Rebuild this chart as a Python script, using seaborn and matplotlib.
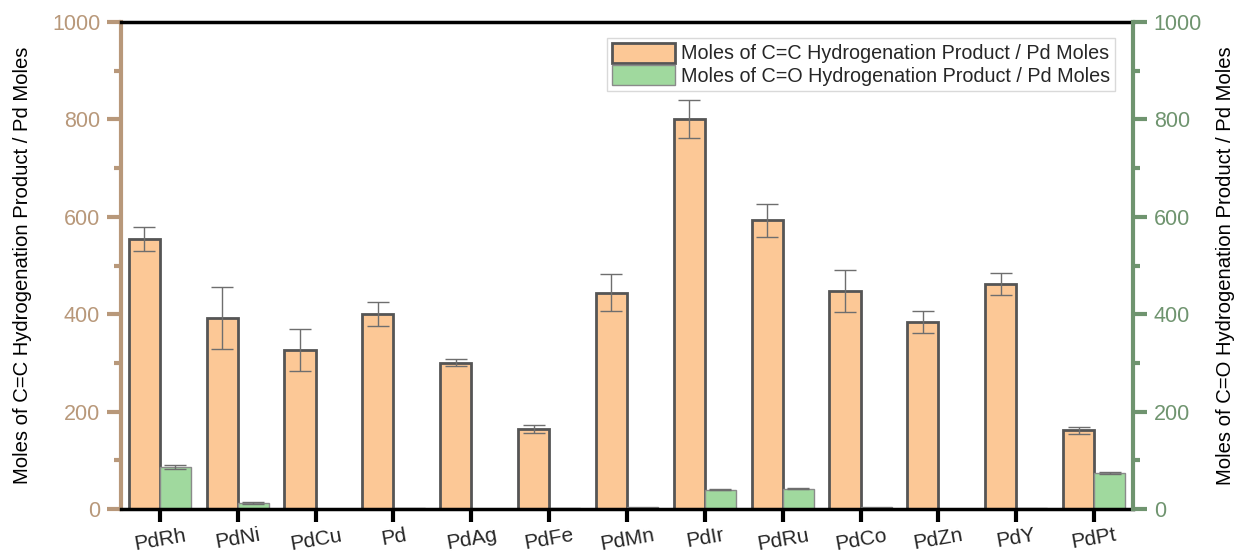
import numpy as np
import pandas as pd
import matplotlib
matplotlib.use("Agg")
import matplotlib.pyplot as plt
import seaborn as sns
from matplotlib.ticker import MultipleLocator

categories = ["PdRh", "PdNi", "PdCu", "Pd", "PdAg", "PdFe", "PdMn", "PdIr", "PdRu", "PdCo", "PdZn", "PdY", "PdPt"]
cc_values = [555, 392, 326, 401, 300, 164, 444, 800, 593, 447, 384, 462, 162]
cc_errors = [25, 63, 43, 25, 7, 8, 38, 39, 34, 43, 23, 23, 7]
co_values = [86, 12, 0, 2, 0, 2, 4, 40, 42, 5, 0, 2, 73]
co_errors = [4, 2, 0, 0, 0, 0, 0, 1, 1, 0, 0, 0, 2]

label_cc = "Moles of C=C Hydrogenation Product / Pd Moles"
label_co = "Moles of C=O Hydrogenation Product / Pd Moles"

sns.set_style("white")
plt.rcParams['font.family'] = ['Liberation Sans', 'DejaVu Sans']

df = pd.DataFrame({
    "cat": categories * 2,
    "val": cc_values + co_values,
    "series": [label_cc] * len(categories) + [label_co] * len(categories),
})

orange = "#fcc896"
green = "#a0d99e"
tan = "#b8987a"
sage = "#6f946f"

fig = plt.figure(figsize=(12.38, 5.53), dpi=100)
ax = fig.add_axes([121/1238, 1 - 509/553, (1133-121)/1238, (509-22)/553])

sns.barplot(data=df, x="cat", y="val", hue="series", order=categories,
            hue_order=[label_cc, label_co], palette=[orange, green],
            errorbar=None, width=0.8, ax=ax, legend=True, saturation=1)

n = len(categories)
patches = ax.patches[:2 * n]
for i, p in enumerate(patches):
    if i < n:
        p.set_edgecolor("#555555"); p.set_linewidth(2.0)
    else:
        p.set_edgecolor("#8a8a8a"); p.set_linewidth(1.0)

# error bars
xs_cc = [patches[i].get_x() + patches[i].get_width() / 2 for i in range(n)]
xs_co = [patches[n + i].get_x() + patches[n + i].get_width() / 2 for i in range(n)]
ax.errorbar(xs_cc, cc_values, yerr=cc_errors, fmt="none", ecolor="#6e6e6e",
            elinewidth=1.0, capsize=8, capthick=1.0, zorder=5)
co_x = [x for x, e in zip(xs_co, co_errors) if e > 0]
co_y = [v for v, e in zip(co_values, co_errors) if e > 0]
co_e = [e for e in co_errors if e > 0]
ax.errorbar(co_x, co_y, yerr=co_e, fmt="none", ecolor="#6e6e6e",
            elinewidth=1.0, capsize=8, capthick=1.0, zorder=5)

ax.set_xlim(-0.5, n - 0.5)
ax.set_ylim(0, 1000)
ax.set_xlabel("")
ax.set_ylabel(label_cc, fontsize=14.6, color="black", labelpad=14)
ax.yaxis.set_major_locator(MultipleLocator(200))
ax.yaxis.set_minor_locator(MultipleLocator(100))
ax.tick_params(axis="y", which="major", direction="out", length=10, width=3,
               color=tan, labelcolor=tan, labelsize=15.5, left=True, pad=5)
ax.tick_params(axis="y", which="minor", direction="out", length=5, width=3,
               color=tan, left=True)
ax.tick_params(axis="x", which="major", direction="out", length=9, width=3,
               color="black", labelsize=15, bottom=True, pad=3)
for lbl in ax.get_xticklabels():
    lbl.set_rotation(10)

ax.spines["left"].set_color(tan)
ax.spines["left"].set_linewidth(3)
ax.spines["bottom"].set_color("black")
ax.spines["bottom"].set_linewidth(2.5)
ax.spines["top"].set_color("black")
ax.spines["top"].set_linewidth(2.5)
ax.spines["right"].set_visible(False)

ax2 = ax.twinx()
ax2.set_ylim(0, 1000)
ax2.yaxis.set_major_locator(MultipleLocator(200))
ax2.yaxis.set_minor_locator(MultipleLocator(100))
ax2.tick_params(axis="y", which="major", direction="out", length=10, width=3,
                color=sage, labelcolor=sage, labelsize=15.5, right=True, pad=5)
ax2.tick_params(axis="y", which="minor", direction="out", length=5, width=3,
                color=sage, right=True)
ax2.set_ylabel(label_co, fontsize=14.6, color="black", labelpad=10)
ax2.spines["right"].set_color(sage)
ax2.spines["right"].set_linewidth(3)
for s in ["left", "top", "bottom"]:
    ax2.spines[s].set_visible(False)

handles = [patches[0], patches[n]]
ax.legend(handles, [label_cc, label_co], loc="upper right", bbox_to_anchor=(0.982, 0.968),
          fontsize=14.2, frameon=True, fancybox=False, edgecolor="#d0d0d0",
          handlelength=3.2, handleheight=1.2, handletextpad=0.3, borderpad=0.25,
          labelspacing=0.1, borderaxespad=0)

fig.savefig("out.png", dpi=100)
